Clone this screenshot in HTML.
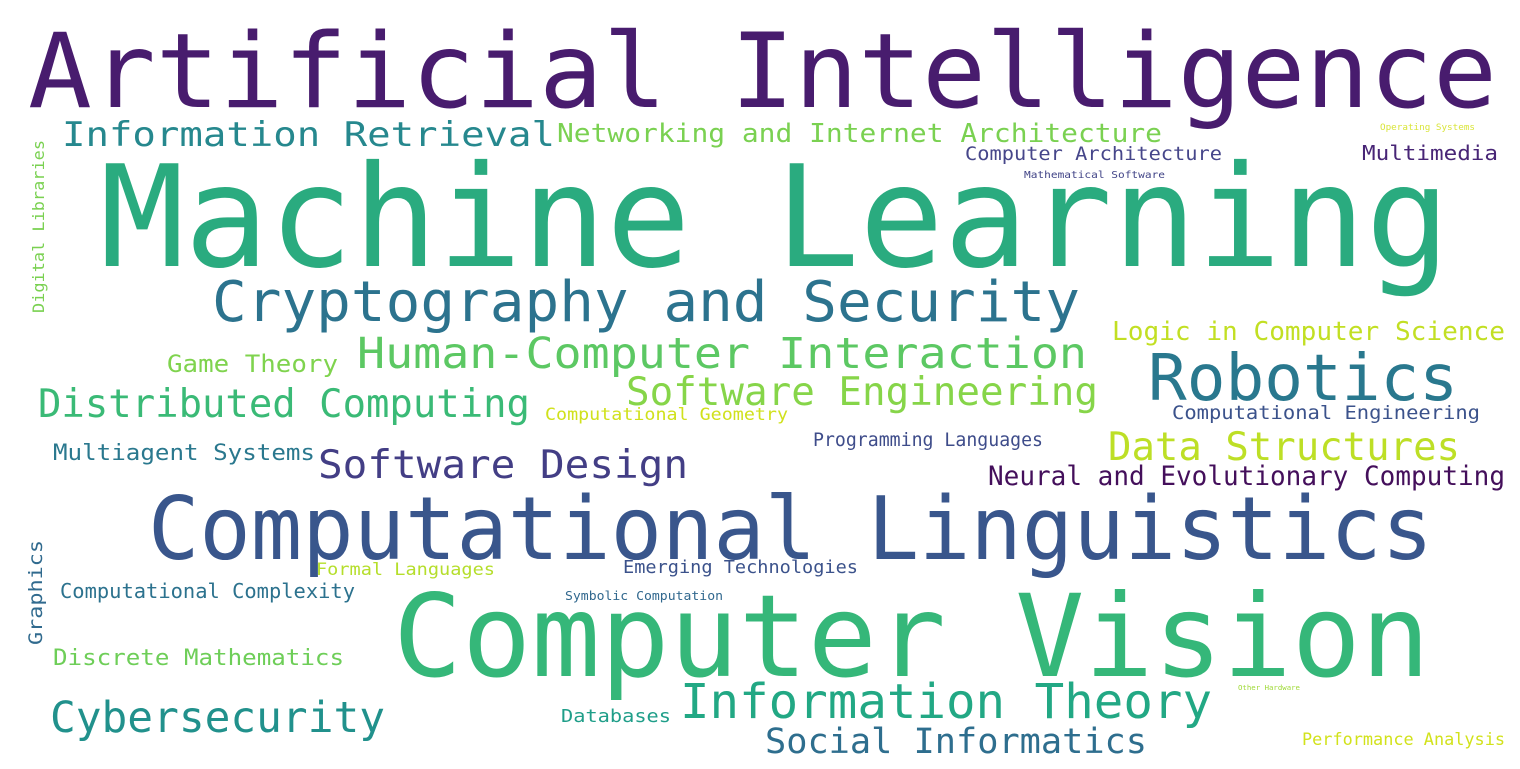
<!DOCTYPE html>
<html><head><meta charset="utf-8"><style>
html,body{margin:0;padding:0;background:#fff;width:1520px;height:769px;overflow:hidden}
svg text{font-family:"DejaVu Sans Mono","Liberation Mono",monospace}
</style></head><body>
<svg width="1520" height="769" viewBox="0 0 1520 769" xmlns="http://www.w3.org/2000/svg">
<rect width="1520" height="769" fill="#fff"/>
<g>
<text x="28" y="107" font-size="103" fill="#481c6e" textLength="1469" lengthAdjust="spacingAndGlyphs">Artificial Intelligence</text>
<text x="100" y="266" font-size="141" fill="#2aab7f" textLength="1350" lengthAdjust="spacingAndGlyphs">Machine Learning</text>
<text x="62" y="146" font-size="34" fill="#26888e" textLength="493" lengthAdjust="spacingAndGlyphs">Information Retrieval</text>
<text x="557" y="142" font-size="26" fill="#7ad151" textLength="605" lengthAdjust="spacingAndGlyphs">Networking and Internet Architecture</text>
<text x="965" y="160" font-size="19" fill="#46468a" textLength="257" lengthAdjust="spacingAndGlyphs">Computer Architecture</text>
<text x="1362" y="160" font-size="20" fill="#482576" textLength="136" lengthAdjust="spacingAndGlyphs">Multimedia</text>
<text x="1024" y="178" font-size="10" fill="#414487" textLength="141" lengthAdjust="spacingAndGlyphs">Mathematical Software</text>
<text x="1380" y="130" font-size="9" fill="#d9e53b" textLength="95" lengthAdjust="spacingAndGlyphs">Operating Systems</text>
<text transform="translate(44,313) rotate(-90)" font-size="16" fill="#7ad151" textLength="173" lengthAdjust="spacingAndGlyphs">Digital Libraries</text>
<text x="212" y="321" font-size="56" fill="#2c738e" textLength="868" lengthAdjust="spacingAndGlyphs">Cryptography and Security</text>
<text x="1112" y="340" font-size="26" fill="#c2df23" textLength="393" lengthAdjust="spacingAndGlyphs">Logic in Computer Science</text>
<text x="357" y="368" font-size="43" fill="#5cc863" textLength="730" lengthAdjust="spacingAndGlyphs">Human-Computer Interaction</text>
<text x="1148" y="400" font-size="64" fill="#29788e" textLength="310" lengthAdjust="spacingAndGlyphs">Robotics</text>
<text x="167" y="372" font-size="24" fill="#7fd34e" textLength="171" lengthAdjust="spacingAndGlyphs">Game Theory</text>
<text x="38" y="417" font-size="39" fill="#3aba76" textLength="492" lengthAdjust="spacingAndGlyphs">Distributed Computing</text>
<text x="626" y="405" font-size="39" fill="#86d549" textLength="472" lengthAdjust="spacingAndGlyphs">Software Engineering</text>
<text x="545" y="420" font-size="17" fill="#d0e11c" textLength="243" lengthAdjust="spacingAndGlyphs">Computational Geometry</text>
<text x="1172" y="419" font-size="19" fill="#3b528b" textLength="308" lengthAdjust="spacingAndGlyphs">Computational Engineering</text>
<text x="813" y="446" font-size="19" fill="#3e4c8a" textLength="230" lengthAdjust="spacingAndGlyphs">Programming Languages</text>
<text x="1108" y="460" font-size="39" fill="#bddf26" textLength="352" lengthAdjust="spacingAndGlyphs">Data Structures</text>
<text x="53" y="460" font-size="22" fill="#2a788e" textLength="262" lengthAdjust="spacingAndGlyphs">Multiagent Systems</text>
<text x="318" y="478" font-size="39" fill="#433e85" textLength="370" lengthAdjust="spacingAndGlyphs">Software Design</text>
<text x="988" y="485" font-size="27" fill="#440f5b" textLength="517" lengthAdjust="spacingAndGlyphs">Neural and Evolutionary Computing</text>
<text x="148" y="559" font-size="87" fill="#39568c" textLength="1285" lengthAdjust="spacingAndGlyphs">Computational Linguistics</text>
<text transform="translate(42,645) rotate(-90)" font-size="19" fill="#306a8e" textLength="105" lengthAdjust="spacingAndGlyphs">Graphics</text>
<text x="316" y="575" font-size="17" fill="#b5de2b" textLength="179" lengthAdjust="spacingAndGlyphs">Formal Languages</text>
<text x="623" y="573" font-size="18" fill="#3b528b" textLength="235" lengthAdjust="spacingAndGlyphs">Emerging Technologies</text>
<text x="60" y="598" font-size="20" fill="#2c728e" textLength="295" lengthAdjust="spacingAndGlyphs">Computational Complexity</text>
<text x="565" y="600" font-size="12" fill="#31688e" textLength="158" lengthAdjust="spacingAndGlyphs">Symbolic Computation</text>
<text x="393" y="676" font-size="114" fill="#35b779" textLength="1037" lengthAdjust="spacingAndGlyphs">Computer Vision</text>
<text x="53" y="665" font-size="22" fill="#6ece58" textLength="291" lengthAdjust="spacingAndGlyphs">Discrete Mathematics</text>
<text x="1238" y="690" font-size="7" fill="#a0da39" textLength="62" lengthAdjust="spacingAndGlyphs">Other Hardware</text>
<text x="50" y="732" font-size="43" fill="#21918c" textLength="335" lengthAdjust="spacingAndGlyphs">Cybersecurity</text>
<text x="680" y="718" font-size="48" fill="#22a884" textLength="532" lengthAdjust="spacingAndGlyphs">Information Theory</text>
<text x="561" y="722" font-size="18" fill="#1f9e89" textLength="110" lengthAdjust="spacingAndGlyphs">Databases</text>
<text x="765" y="753" font-size="35" fill="#2e6e8e" textLength="382" lengthAdjust="spacingAndGlyphs">Social Informatics</text>
<text x="1302" y="745" font-size="17" fill="#d2e21b" textLength="203" lengthAdjust="spacingAndGlyphs">Performance Analysis</text>
</g>
</svg>
</body></html>
